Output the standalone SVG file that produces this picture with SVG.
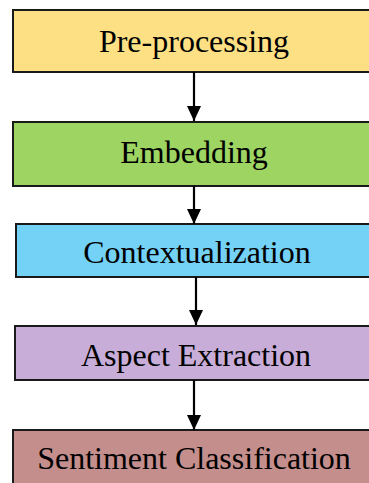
<svg xmlns="http://www.w3.org/2000/svg" width="369" height="483" viewBox="0 0 369 483">
<style>
.box{stroke:#1a1a1a;stroke-width:2}
.lbl{font-family:"Liberation Serif","Times New Roman",serif;font-size:32px;fill:#000;text-anchor:middle}
.conn{stroke:#000;stroke-width:2.2;fill:none}
</style>
<defs>
<marker id="ah" markerUnits="userSpaceOnUse" markerWidth="16" markerHeight="16" refX="15" refY="7" orient="auto">
<path d="M0,0 L15,7 L0,14 Z" fill="#000"/>
</marker>
</defs>
<rect width="369" height="483" fill="#fff"/>
<g id="n1"><rect class="box" x="13" y="10" width="370" height="62" fill="#FDDF84"/><text class="lbl" x="194" y="52">Pre-processing</text></g>
<g id="n2"><rect class="box" x="13" y="122" width="370" height="64" fill="#9DD462"/><text class="lbl" x="194" y="163">Embedding</text></g>
<g id="n3"><rect class="box" x="16" y="224" width="370" height="53" fill="#74D2F7"/><text class="lbl" x="197" y="263">Contextualization</text></g>
<g id="n4"><rect class="box" x="15" y="326" width="370" height="54" fill="#C7ADD8"/><text class="lbl" x="196" y="366">Aspect Extraction</text></g>
<g id="n5"><rect class="box" x="13" y="430" width="370" height="70" fill="#C48E8C"/><text class="lbl" x="194" y="469">Sentiment Classification</text></g>
<g id="connectors">
<line class="conn" x1="194" y1="72" x2="194" y2="121" marker-end="url(#ah)"/>
<line class="conn" x1="194" y1="186" x2="194" y2="224" marker-end="url(#ah)"/>
<line class="conn" x1="196" y1="277" x2="196" y2="325" marker-end="url(#ah)"/>
<line class="conn" x1="194" y1="380" x2="194" y2="430" marker-end="url(#ah)"/>
</g>
</svg>
